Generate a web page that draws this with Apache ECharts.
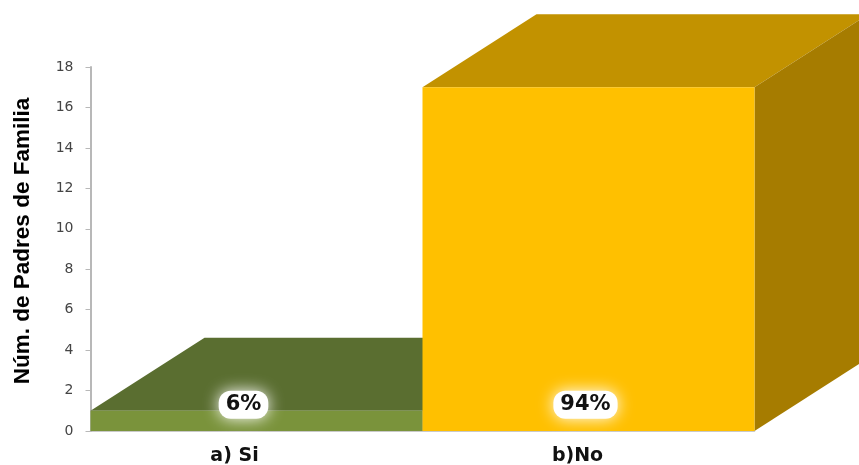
<!DOCTYPE html>
<html>
<head>
<meta charset="utf-8">
<style>html,body{margin:0;padding:0;background:#fff}#chart{width:859px;height:465px}</style>
<script src="https://cdn.jsdelivr.net/npm/echarts@6/dist/echarts.min.js"></script>
</head>
<body>
<div id="chart"></div>
<script>
var categories = ['a) Si', 'b)No'];
var values = [1, 17];
var percents = ['6%', '94%'];
var yTicksMax = 18;

var frontColors = ['#7a933b', '#ffc000'];
var topColors = ['#5a6e30', '#c29200'];
var sideColors = ['#4a5a28', '#a67c00'];

// 3d look of the boxes, pixels
var depthX = 114;
var depthY = 73;
var labelShift = [-13, -3];
var catPadding = [44, 22];

var myChart = echarts.init(document.getElementById('chart'), null, { renderer: 'canvas' });

function renderBox(params, api) {
  var i = api.value(0);
  var w = api.size([1, 0])[0];
  var top = api.coord([i, api.value(1)]);
  var base = api.coord([i, 0]);
  var x0 = top[0] - w / 2;
  var x1 = top[0] + w / 2;
  var lab = api.coord([i, 1.3]);
  return {
    type: 'group',
    children: [
      { type: 'polygon', shape: { points: [[x0, top[1]], [x0 + depthX, top[1] - depthY], [x1 + depthX, top[1] - depthY], [x1, top[1]]] }, style: { fill: topColors[i] } },
      { type: 'polygon', shape: { points: [[x1, top[1]], [x1 + depthX, top[1] - depthY], [x1 + depthX, base[1] - depthY], [x1, base[1]]] }, style: { fill: sideColors[i] } },
      { type: 'rect', shape: { x: x0, y: top[1], width: w, height: base[1] - top[1] }, style: { fill: frontColors[i] } },
      {
        type: 'text',
        x: lab[0] + labelShift[i],
        y: lab[1],
        z2: 10,
        style: {
          text: percents[i],
          font: 'bold 21px "DejaVu Sans"',
          fill: '#111',
          align: 'center',
          verticalAlign: 'middle',
          backgroundColor: '#fff',
          borderRadius: 12,
          padding: [4, 7, 3, 7],
          shadowBlur: 16,
          shadowColor: '#fff'
        }
      }
    ]
  };
}

myChart.setOption({
  animation: false,
  grid: { left: 90.5, right: 104.5, top: 67, bottom: 34, outerBoundsMode: 'none' },
  xAxis: {
    type: 'category',
    data: categories.map(function (c, i) {
      return { value: c, textStyle: { padding: [0, catPadding[i], 0, 0] } };
    }),
    axisTick: { show: false },
    axisLine: { lineStyle: { color: '#b8b8b8', width: 1.5 } },
    axisLabel: { interval: 0, margin: 16, fontFamily: 'DejaVu Sans', fontWeight: 'bold', fontSize: 19, color: '#111' }
  },
  yAxis: {
    type: 'value',
    min: 0,
    max: yTicksMax,
    interval: 2,
    name: 'Núm. de Padres de Familia',
    nameLocation: 'middle',
    nameGap: 56,
    nameTextStyle: { fontFamily: 'Liberation Sans', fontWeight: 'bold', fontSize: 22.5, color: '#000', padding: [0, 0, 0, 16] },
    splitLine: { show: false },
    axisLine: { show: true, lineStyle: { color: '#b8b8b8', width: 2 } },
    axisTick: { show: true, length: 5, lineStyle: { color: '#b8b8b8', width: 1 } },
    axisLabel: { margin: 17, fontFamily: 'DejaVu Sans', fontSize: 14, color: '#444' }
  },
  series: [{
    type: 'custom',
    clip: false,
    renderItem: renderBox,
    encode: { x: 0, y: 1 },
    data: values.map(function (v, i) { return [i, v]; })
  }]
});
</script>
</body>
</html>
